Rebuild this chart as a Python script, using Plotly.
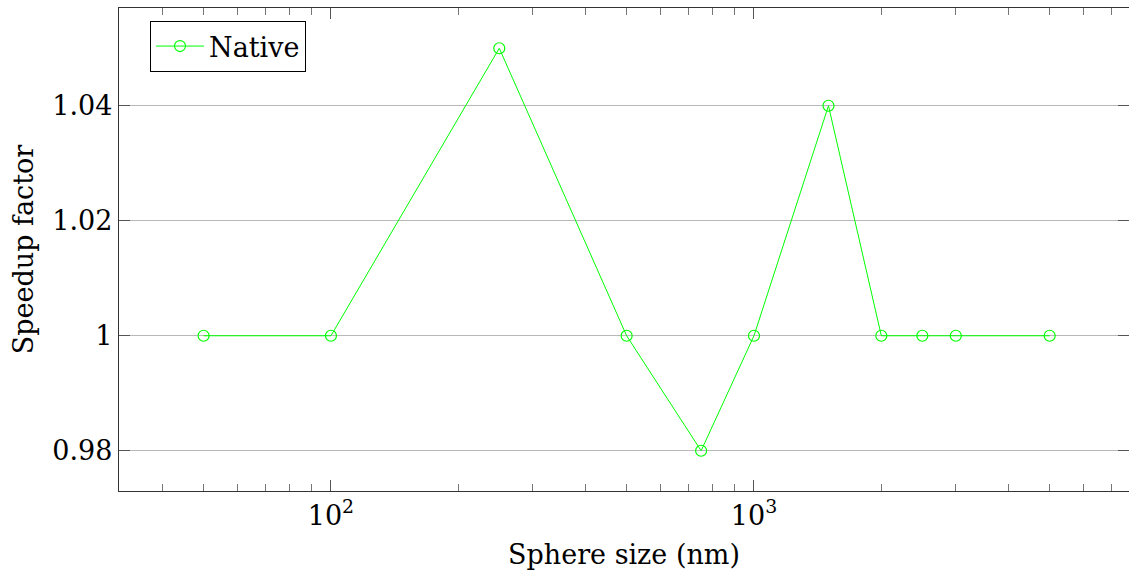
import plotly.graph_objects as go
import math

# Data
sphere_size_nm = [50, 100, 250, 500, 750, 1000, 1500, 2000, 2500, 3000, 5000]
speedup_native = [1.0, 1.0, 1.05, 1.0, 0.98, 1.0, 1.04, 1.0, 1.0, 1.0, 1.0]
series_name = "Native"

x_major_vals = [100, 1000]
x_major_text = ["10<sup>2</sup>", "10<sup>3</sup>"]
y_tick_vals = [0.98, 1.0, 1.02, 1.04]
y_tick_text = ["0.98", "1", "1.02", "1.04"]

GREEN = "rgb(0,255,0)"
FONT = "DejaVu Serif, Liberation Serif, serif"
FS = 27

minor_vals = [m * 10 ** e for e in (1, 2, 3) for m in range(2, 10) if m * 10 ** e not in x_major_vals]

fig = go.Figure()
fig.add_trace(go.Scatter(
    x=sphere_size_nm, y=speedup_native, name=series_name,
    mode="lines+markers",
    line=dict(color=GREEN, width=1),
    marker=dict(symbol="circle-open", size=11, color=GREEN, line=dict(width=1.2, color=GREEN)),
))

fig.update_layout(
    width=1129, height=579,
    margin=dict(l=119, r=0, t=8, b=88),
    paper_bgcolor="white", plot_bgcolor="white",
    font=dict(family=FONT, size=FS, color="black"),
    showlegend=True,
    legend=dict(
        x=(150 - 119) / 1010, y=1 - (21 - 8) / 483, xanchor="left", yanchor="top",
        bordercolor="black", borderwidth=1, bgcolor="white",
        font=dict(family=FONT, size=FS),
        itemwidth=48,
    ),
)

fig.update_xaxes(
    type="log",
    range=[math.log10(31.55), 3.8865],
    tickmode="array", tickvals=x_major_vals, ticktext=x_major_text,
    ticks="inside", ticklen=11, tickwidth=1, tickcolor="#555",
    showline=True, linecolor="#333", linewidth=1.3, mirror="ticks",
    showgrid=False, zeroline=False,
    minor=dict(tickmode="array", tickvals=minor_vals, ticks="inside", ticklen=7,
               tickwidth=1, tickcolor="#777", showgrid=False),
    title=dict(text="Sphere size (nm)", font=dict(family=FONT, size=FS), standoff=15),
    tickfont=dict(family=FONT, size=FS),
)
fig.update_yaxes(
    range=[0.973, 1.057],
    tickmode="array", tickvals=y_tick_vals, ticktext=y_tick_text,
    ticks="inside", ticklen=11, tickwidth=1, tickcolor="#555",
    showline=True, linecolor="#333", linewidth=1.3, mirror="ticks",
    showgrid=True, gridcolor="#b8b8b8", gridwidth=1, zeroline=False,
    title=dict(text="Speedup factor", font=dict(family=FONT, size=FS), standoff=10),
    tickfont=dict(family=FONT, size=FS),
)

fig.write_html("out.html")
